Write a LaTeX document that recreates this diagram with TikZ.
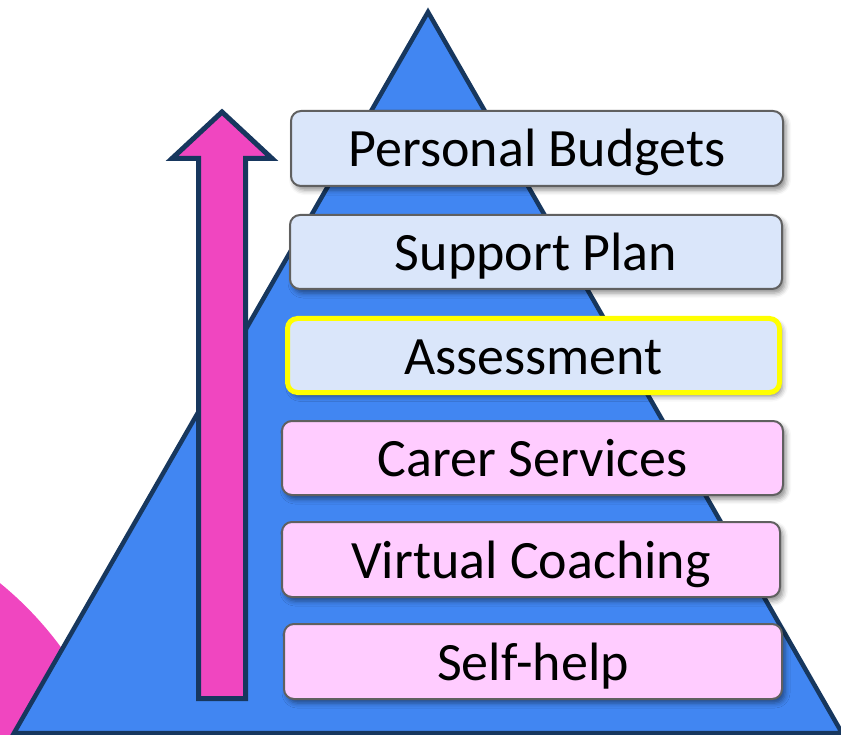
\documentclass[tikz,border=0pt]{standalone}
\usepackage{fontspec}
\setmainfont{Carlito}
\usetikzlibrary{shadows.blur}
\definecolor{triblue}{RGB}{65,134,242}
\definecolor{navy}{RGB}{23,55,94}
\definecolor{arrowpink}{RGB}{240,70,192}
\definecolor{boxblue}{RGB}{218,230,250}
\definecolor{boxpink}{RGB}{255,204,255}
\definecolor{boxgray}{RGB}{96,96,96}
\definecolor{hiyellow}{RGB}{255,255,0}
\tikzset{
  stagebox/.style={draw=boxgray, line width=2pt, rounded corners=10pt,
    font=\fontsize{54}{60}\selectfont, text=black,
    text height=37pt, text depth=0pt, inner sep=0pt,
    blur shadow={shadow xshift=3pt, shadow yshift=-4pt, shadow blur radius=5pt, shadow opacity=45}},
  bluebox/.style={stagebox, fill=boxblue},
  pinkbox/.style={stagebox, fill=boxpink},
  highlight/.style={draw=hiyellow, line width=5pt},
}
\begin{document}
\begin{tikzpicture}[x=1pt,y=-1pt]
\useasboundingbox (0,0) rectangle (841,735);
% pink circle behind
\fill[arrowpink] (-222,855) circle (351);
% pyramid
\draw[navy, line width=4.5pt, fill=triblue, line join=miter]
  (428,12) coordinate (apex) -- (842,733) coordinate (br) -- (14,733) coordinate (bl) -- cycle;
% arrow
\draw[navy, line width=5pt, fill=arrowpink, line join=miter]
  (222,112) coordinate (tip) -- (272,158.5) -- (245.5,158.5) -- (245.5,698.5)
  -- (198.5,698.5) -- (198.5,158.5) -- (172,158.5) -- cycle;
% boxes
\node[bluebox, minimum width=492, minimum height=75] (b1) at (537,148.5) {Personal Budgets};
\node[bluebox, minimum width=492, minimum height=74] (b2) at (536,252) {Support Plan};
\node[bluebox, highlight, minimum width=492, minimum height=74] (b3) at (533.5,355.5) {Assessment};
\node[pinkbox, minimum width=501, minimum height=74] (b4) at (532.5,458) {Carer Services};
\node[pinkbox, minimum width=498, minimum height=75] (b5) at (531,559.5) {Virtual Coaching};
\node[pinkbox, minimum width=498, minimum height=75] (b6) at (533,661.5) {Self-help};
\end{tikzpicture}
\end{document}
